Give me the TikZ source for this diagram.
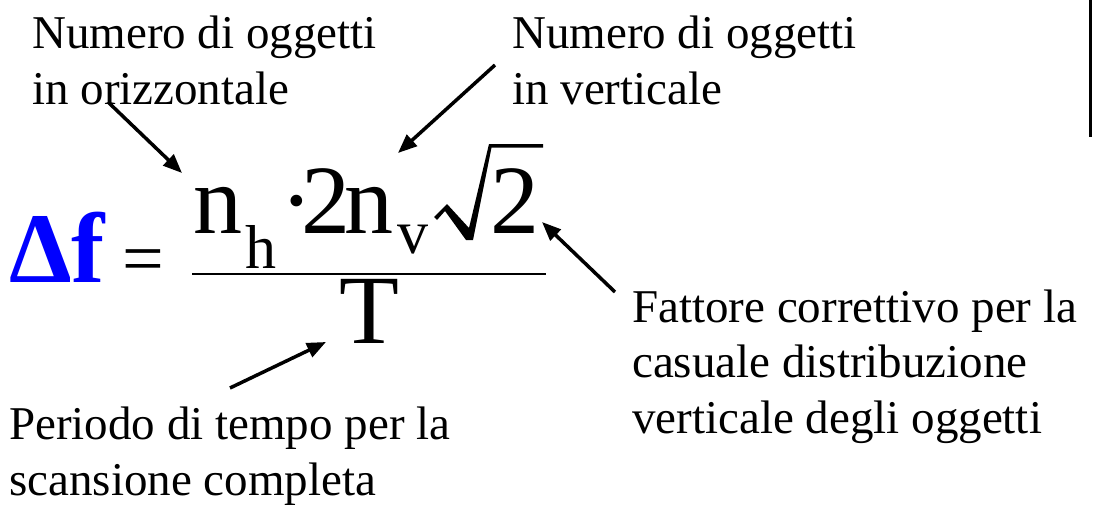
\documentclass[tikz,border=0pt]{standalone}
\usepackage{fontspec}
\setmainfont{Liberation Serif}
\usetikzlibrary{arrows.meta}

\definecolor{deltablue}{RGB}{0,0,255}

\begin{document}
\begin{tikzpicture}[
    x=1pt, y=-1pt,
    note/.style={anchor=base west, inner sep=0pt, align=left, font=\fontsize{47}{55.5}\selectfont},
    term/.style={anchor=base west, inner sep=0pt, font=\fontsize{98}{100}\selectfont},
    sub/.style={anchor=base west, inner sep=0pt, font=\fontsize{62}{64}\selectfont},
    pointer/.style={line width=3.5pt, -{Triangle[length=19pt, width=15pt]}}
]
\useasboundingbox (0,0) rectangle (1093,506);

% frame edge at the right
\draw[line width=3pt] (1090,0) -- (1090,137);

% Labels (placed at the baseline of their last line)
\node[note] (lblH) at (32,104) {Numero di oggetti\\in orizzontale};
\node[note] (lblV) at (512,104) {Numero di oggetti\\in verticale};
\node[note] (lblF) at (632,433) {Fattore correttivo per la\\casuale distribuzione\\verticale degli oggetti};
\node[note] (lblT) at (9,495) {Periodo di tempo per la\\scansione completa};

% Formula
\node[anchor=base west, inner sep=0pt, text=deltablue, font=\fontsize{100}{100}\selectfont\bfseries] (delta) at (9,282) {Δf};
\node[anchor=base west, inner sep=0pt, font=\fontsize{74}{74}\selectfont] (eq) at (122,283) {=};
\node[term] (nh) at (193,233) {n};
\node[sub] (h) at (245,268) {h};
\node[term] (dot) at (280,233) {·};
\node[term] (two) at (301,233) {2};
\node[term] (nv) at (344,233) {n};
\node[sub] (v) at (397,253) {v};
\node[term] (rtwo) at (490,233) {2};
\node[term] (T) at (339,343) {T};

% fraction bar and radical
\draw[line width=1.5pt] (192,274) -- (546,274);
\fill (434,217) -- (447,204) -- (469,228) -- (489,144) -- (543,144) -- (543,147.5)
  -- (491.5,147.5) -- (473,240) -- (466,240) -- (445,211) -- (437,220) -- cycle;

% arrow ends
\coordinate (tailH) at (108,102);
\coordinate (tipH) at (182,173);
\coordinate (tailV) at (495,65);
\coordinate (tipV) at (398,153);
\coordinate (tailF) at (615,292);
\coordinate (tipF) at (542,222);
\coordinate (tailT) at (230,388);
\coordinate (tipT) at (326,342);

\draw[pointer] (tailH) -- (tipH);
\draw[pointer] (tailV) -- (tipV);
\draw[pointer] (tailF) -- (tipF);
\draw[pointer] (tailT) -- (tipT);

\end{tikzpicture}
\end{document}
